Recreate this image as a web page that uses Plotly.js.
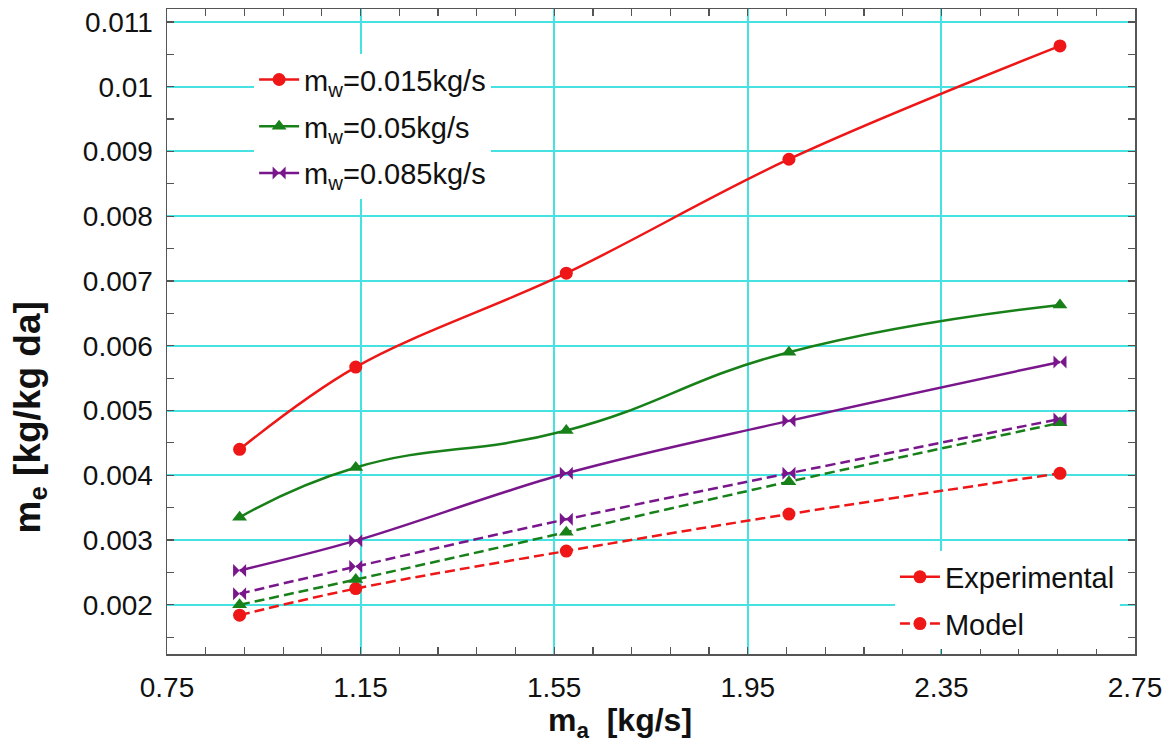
<!DOCTYPE html>
<html>
<head>
<meta charset="utf-8">
<script src="https://cdn.plot.ly/plotly-3.0.1.min.js"></script>
<style>html,body{margin:0;padding:0;background:#fff;}#chart{width:1173px;height:742px;}</style>
</head>
<body>
<div id="chart"></div>
<script>
// ---- data ----
const airFlow = [0.9, 1.14, 1.575, 2.035, 2.595];          // m_a [kg/s]
const exp015  = [0.00440, 0.00567, 0.00712, 0.00888, 0.01063];
const exp05   = [0.00335, 0.00412, 0.00469, 0.00590, 0.00663];
const exp085  = [0.00253, 0.00299, 0.00403, 0.00484, 0.00575];
const mod015  = [0.00184, 0.00225, 0.00283, 0.00340, 0.00403];
const mod05   = [0.00200, 0.00239, 0.00312, 0.00390, 0.00481];
const mod085  = [0.00217, 0.00259, 0.00332, 0.00403, 0.00487];
const seriesNames = ['m<sub>w</sub>=0.015kg/s', 'm<sub>w</sub>=0.05kg/s', 'm<sub>w</sub>=0.085kg/s'];
const xTickVals = [0.75, 1.15, 1.55, 1.95, 2.35, 2.75];
const xTickText = ['0.75', '1.15', '1.55', '1.95', '2.35', '2.75'];
const yTickVals = [0.002, 0.003, 0.004, 0.005, 0.006, 0.007, 0.008, 0.009, 0.01, 0.011];
const yTickText = ['0.002', '0.003', '0.004', '0.005', '0.006', '0.007', '0.008', '0.009', '0.01', '0.011'];
const typeNames = ['Experimental', 'Model'];

const RED = 'rgb(238,22,22)', GREEN = 'rgb(24,128,24)', PURPLE = 'rgb(122,22,140)';
const FONT = 'Liberation Sans, Arial, sans-serif';
const DASH = '10px,5px';

function expTrace(y, name, color, symbol, grp, sm) {
  return {x: airFlow, y: y, name: name, type: 'scatter', mode: 'lines+markers',
    line: {color: color, width: 2.5, shape: 'spline', smoothing: sm},
    marker: {color: color, symbol: symbol, size: 13},
    legend: 'legend', legendgroup: grp};
}
function modTrace(y, color, symbol) {
  return {x: airFlow, y: y, type: 'scatter', mode: 'lines+markers', showlegend: false,
    line: {color: color, width: 2.5, dash: DASH, shape: 'spline', smoothing: 1},
    marker: {color: color, symbol: symbol, size: 13}};
}

const traces = [
  modTrace(mod015, RED, 'circle'),
  modTrace(mod05, GREEN, 'triangle-up'),
  modTrace(mod085, PURPLE, 'bowtie'),
  expTrace(exp015, seriesNames[0], RED, 'circle', 'g1', 1),
  expTrace(exp05, seriesNames[1], GREEN, 'triangle-up', 'g2', 1.3),
  expTrace(exp085, seriesNames[2], PURPLE, 'bowtie', 'g3', 1),
  {x: [null], y: [null], name: typeNames[0], type: 'scatter', mode: 'lines+markers',
   line: {color: RED, width: 2.5}, marker: {color: RED, symbol: 'circle', size: 13},
   legend: 'legend2', legendgroup: 'h1'},
  {x: [null], y: [null], name: typeNames[1], type: 'scatter', mode: 'lines+markers',
   line: {color: RED, width: 2.5, dash: DASH}, marker: {color: RED, symbol: 'circle', size: 13},
   legend: 'legend2', legendgroup: 'h2'}
];

const axisCommon = {
  showline: true, linecolor: '#555', linewidth: 1.5, mirror: 'ticks',
  ticks: 'inside', ticklen: 7, tickcolor: '#555', tickwidth: 1.2,
  showgrid: true, gridcolor: 'rgb(70,225,225)', gridwidth: 2,
  zeroline: false, tickfont: {family: FONT, size: 28, color: '#111'}
};

const layout = {
  width: 1173, height: 742,
  margin: {l: 167, r: 38, t: 9, b: 88},
  paper_bgcolor: '#fff', plot_bgcolor: '#fff',
  font: {family: FONT, color: '#111'},
  xaxis: Object.assign({}, axisCommon, {
    range: [0.75, 2.75], tickmode: 'array', tickvals: xTickVals, ticktext: xTickText,
    ticklabelstandoff: 8,
    minor: {dtick: 0.08, tick0: 0.75, ticks: 'inside', ticklen: 7, tickcolor: '#555', tickwidth: 1.2, showgrid: false}
  }),
  yaxis: Object.assign({}, axisCommon, {
    range: [0.00124, 0.0112], tickmode: 'array', tickvals: yTickVals, ticktext: yTickText,
    ticklabelstandoff: 7,
    minor: {dtick: 0.0005, tick0: 0, ticks: 'inside', ticklen: 7, tickcolor: '#555', tickwidth: 1.2, showgrid: false}
  }),
  showlegend: true,
  legend: {x: 0.09, y: 0.93, xanchor: 'left', yanchor: 'top', bgcolor: '#fff', borderwidth: 0,
    font: {family: FONT, size: 29, color: '#111'}, tracegroupgap: 6, traceorder: 'grouped', itemwidth: 40},
  legend2: {x: 0.752, y: 0.007, xanchor: 'left', yanchor: 'bottom', bgcolor: '#fff', borderwidth: 0,
    font: {family: FONT, size: 29, color: '#111'}, tracegroupgap: 6, traceorder: 'grouped', itemwidth: 40},
  annotations: [
    {text: 'm<sub>a</sub>  [kg/s]', xref: 'paper', yref: 'paper', x: 0.468, y: -0.106,
     xanchor: 'center', yanchor: 'middle', showarrow: false,
     font: {family: FONT, size: 32, color: '#111', weight: 'bold'}},
    {text: 'm<sub>e</sub> [kg/kg da]', xref: 'paper', yref: 'paper', x: -0.142, y: 0.366,
     xanchor: 'center', yanchor: 'middle', textangle: -90, showarrow: false,
     font: {family: FONT, size: 37, color: '#111', weight: 'bold'}}
  ]
};

Plotly.newPlot('chart', traces, layout, {staticPlot: true, displayModeBar: false});
</script>
</body>
</html>
